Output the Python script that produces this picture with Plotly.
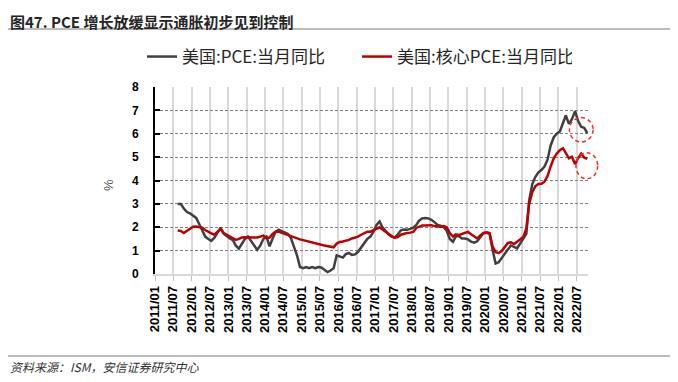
import pandas as pd
import plotly.graph_objects as go

# ---------------- data ----------------
start_month = "2011-08"   # first observation
pce = [3.0, 3.0, 2.8, 2.65, 2.6, 2.5, 2.4, 2.15, 1.85, 1.6, 1.5, 1.42, 1.55, 1.75, 1.98, 1.72, 1.6,
       1.52, 1.45, 1.22, 1.08, 1.3, 1.5, 1.6, 1.4, 1.18, 1.03, 1.22, 1.5,
       1.6, 1.18, 1.5, 1.8, 1.9, 1.85, 1.8, 1.72, 1.55, 1.2, 0.8, 0.3,
       0.25, 0.3, 0.25, 0.3, 0.25, 0.3, 0.28, 0.18, 0.08, 0.15, 0.25, 0.8,
       0.75, 0.7, 0.85, 0.9, 0.82, 0.84, 0.95, 1.15, 1.35, 1.5, 1.6, 1.8,
       2.1, 2.25, 2.0, 1.85, 1.7, 1.6, 1.56, 1.7, 1.87, 1.9, 1.89, 1.93,
       1.98, 2.1, 2.28, 2.38, 2.4, 2.38, 2.32, 2.22, 2.1, 2.07, 2.0, 1.85,
       1.5, 1.38, 1.6, 1.62, 1.52, 1.52, 1.48, 1.38, 1.34, 1.4, 1.6, 1.74,
       1.76, 1.72, 1.05, 0.45, 0.5, 0.7, 0.85, 1.05, 1.22, 1.15, 1.1, 1.3,
       1.5, 1.72, 3.15, 3.85, 4.15, 4.35, 4.45, 4.6, 4.9, 5.5, 5.85, 6.0,
       6.1, 6.5, 6.78, 6.42, 6.62, 6.97, 6.55, 6.3, 6.25, 6.03]
core = [1.86, 1.84, 1.75, 1.85, 1.95, 2.02, 2.03, 2.02, 1.98, 1.88, 1.8, 1.74, 1.68, 1.8, 1.92, 1.75, 1.67,
        1.6, 1.53, 1.46, 1.5, 1.56, 1.57, 1.57, 1.57, 1.57, 1.56, 1.6, 1.64,
        1.53, 1.56, 1.7, 1.81, 1.81, 1.76, 1.72, 1.68, 1.63, 1.58, 1.52, 1.48,
        1.45, 1.41, 1.38, 1.36, 1.32, 1.28, 1.25, 1.22, 1.2, 1.17, 1.14, 1.3,
        1.37, 1.39, 1.42, 1.46, 1.52, 1.55, 1.6, 1.68, 1.75, 1.81, 1.81, 1.88,
        1.95, 2.0, 1.9, 1.8, 1.7, 1.62, 1.55, 1.58, 1.68, 1.73, 1.75, 1.77,
        1.8, 1.97, 2.02, 2.08, 2.08, 2.08, 2.09, 2.05, 2.02, 2.02, 2.05, 2.0,
        1.75, 1.6, 1.7, 1.67, 1.71, 1.76, 1.8, 1.7, 1.6, 1.52, 1.65, 1.76,
        1.78, 1.75, 1.2, 0.93, 0.9, 0.98, 1.15, 1.33, 1.36, 1.28, 1.38, 1.5,
        1.58, 1.95, 3.0, 3.5, 3.75, 3.85, 3.86, 3.95, 4.2, 4.6, 4.95, 5.15,
        5.3, 5.38, 5.18, 4.95, 5.02, 4.7, 4.95, 5.15, 4.98, 4.93]
tick_labels = ["2011/01", "2011/07", "2012/01", "2012/07", "2013/01", "2013/07",
               "2014/01", "2014/07", "2015/01", "2015/07", "2016/01", "2016/07",
               "2017/01", "2017/07", "2018/01", "2018/07", "2019/01", "2019/07",
               "2020/01", "2020/07", "2021/01", "2021/07", "2022/01", "2022/07"]
y_ticks = [0, 1, 2, 3, 4, 5, 6, 7, 8]
series_names = ["美国:PCE:当月同比", "美国:核心PCE:当月同比"]
title_text = "图47. PCE 增长放缓显示通胀初步见到控制"
source_text = "资料来源：ISM，安信证券研究中心"

# ---------------- layout constants (screen pixels) ----------------
W, H = 678, 382
OFF = 8                      # page body margin shifts the figure by 8px
L, R, T, B = 155, 588, 87, 274
X_RANGE = [pd.Timestamp("2011-01-01"), pd.Timestamp("2022-10-22")]
Y_RANGE = [0, 8]


def px(x):
    return (x - L) / (R - L)


def py(y):
    return (B - y) / (B - T)


def date_to_paper(d):
    return (d - X_RANGE[0]) / (X_RANGE[1] - X_RANGE[0])


def val_to_paper(v):
    return (v - Y_RANGE[0]) / (Y_RANGE[1] - Y_RANGE[0])


dates = pd.date_range(start=start_month + "-01", periods=len(pce), freq="MS") + pd.Timedelta(days=14)
tickvals = [pd.Timestamp(t.replace("/", "-") + "-01") for t in tick_labels]

fig = go.Figure()
fig.add_trace(go.Scatter(x=dates, y=pce, mode="lines", name=series_names[0],
                         line=dict(color="#404040", width=2.5)))
fig.add_trace(go.Scatter(x=dates, y=core, mode="lines", name=series_names[1],
                         line=dict(color="#c00000", width=2.5)))

# dashed highlight circles around the latest readings (paper refs so they are not clipped)
last = dates[-1]
shapes = []
for val, dy, dx_days, rx_days, ry in [(pce[-1], 0.14, -60, 118, 0.52), (core[-1], -0.30, -5, 108, 0.56)]:
    cx = last + pd.Timedelta(days=dx_days)
    shapes.append(dict(type="circle", xref="paper", yref="paper",
                       x0=date_to_paper(cx - pd.Timedelta(days=rx_days)),
                       x1=date_to_paper(cx + pd.Timedelta(days=rx_days)),
                       y0=val_to_paper(val + dy - ry), y1=val_to_paper(val + dy + ry),
                       line=dict(color="#ee3030", width=1.5, dash="4px,3px")))
# rule under title and above source
shapes.append(dict(type="line", xref="paper", yref="paper", x0=px(8), x1=px(690),
                   y0=py(29), y1=py(29), line=dict(color="#a6a6a6", width=1.5)))
shapes.append(dict(type="line", xref="paper", yref="paper", x0=px(0), x1=px(690),
                   y0=py(356), y1=py(356), line=dict(color="#a6a6a6", width=1.5)))

fig.update_layout(
    width=W, height=H,
    margin=dict(l=L - OFF, r=W - (R - OFF), t=T - OFF, b=H - (B - OFF), autoexpand=False),
    paper_bgcolor="white", plot_bgcolor="white",
    font=dict(family="Liberation Sans, Arial, sans-serif", color="#000000"),
    showlegend=True,
    legend=dict(orientation="h", xref="container", x=(142 - OFF) / W, xanchor="left",
                yref="paper", y=py(57), yanchor="middle",
                font=dict(family="Noto Sans CJK SC", size=17, color="#262626"),
                itemwidth=30, entrywidth=170, bgcolor="rgba(0,0,0,0)"),
    shapes=shapes,
    annotations=[
        dict(text=title_text, xref="paper", yref="paper", x=px(8), y=py(OFF + 0.5),
             xanchor="left", yanchor="top", showarrow=False,
             font=dict(family="Noto Sans CJK SC", size=15, color="#262626", weight=700)),
        dict(text=source_text, xref="paper", yref="paper", x=px(8), y=py(366),
             xanchor="left", yanchor="middle", showarrow=False,
             font=dict(family="Noto Sans CJK SC", size=12, color="#333333", style="italic")),
        dict(text="%", xref="paper", yref="paper", x=px(108), y=py(185),
             xanchor="center", yanchor="middle", showarrow=False, textangle=-90,
             font=dict(family="Liberation Sans", size=13, color="#595959")),
    ],
)

fig.update_xaxes(
    type="date", range=X_RANGE, automargin=False,
    tickvals=tickvals, ticktext=tick_labels, tickangle=-90,
    tickfont=dict(family="Liberation Sans", size=13, color="#000000", weight=700),
    showgrid=True, gridcolor="#d9d9d9", gridwidth=1.5,
    showline=True, linecolor="#d9d9d9", linewidth=1.5,
    ticks="outside", ticklen=5, tickcolor="#bfbfbf", tickwidth=1,
    zeroline=False,
)
fig.update_yaxes(
    range=Y_RANGE, tickvals=y_ticks, automargin=False,
    tickfont=dict(family="Liberation Sans", size=12, color="#000000", weight=700),
    showgrid=True, gridcolor="#808080", gridwidth=1, griddash="3px,2px",
    showline=True, linecolor="#000000", linewidth=2,
    ticks="inside", ticklen=5, tickcolor="#000000", tickwidth=1.5,
    ticklabelstandoff=12, zeroline=False,
)

fig.write_html("out.html")
